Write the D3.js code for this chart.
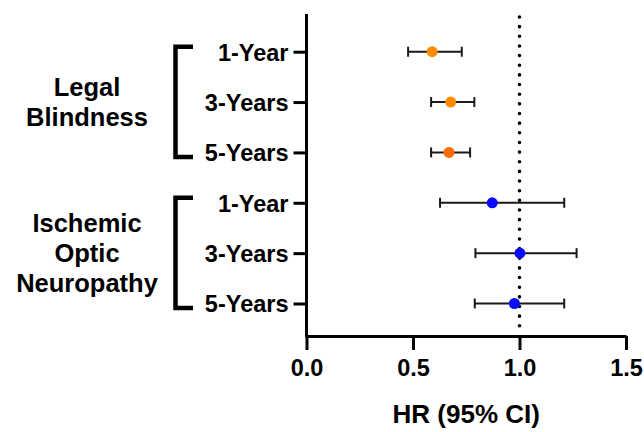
<!DOCTYPE html>
<html lang="en">
  <head>
    <meta charset="utf-8">
    <title>HR forest plot</title>
    <script src="https://cdnjs.cloudflare.com/ajax/libs/d3/7.8.0/d3.min.js"></script>
    <style>
      body { margin: 0; background: #fff; }
      svg { font-family: "Liberation Sans", Arial, sans-serif; font-weight: bold; }
      .axis path, .axis line { stroke: #000; stroke-width: 3px; }
      .axis text { font-size: 23.5px; font-weight: bold; fill: #000; }
    </style>
  </head>
  <body>
    <div id="chart"></div>
    <script type="text/javascript">
      // rows, top to bottom
      var rowIds = ["lb1", "lb3", "lb5", "ion1", "ion3", "ion5"];
      var rowLabels = ["1-Year", "3-Years", "5-Years", "1-Year", "3-Years", "5-Years"];
      var hr = [0.59, 0.677, 0.669, 0.872, 1.002, 0.976];
      var ciLow = [0.477, 0.585, 0.585, 0.627, 0.793, 0.79];
      var ciHigh = [0.729, 0.788, 0.768, 1.21, 1.268, 1.21];
      var pointColors = ["#ff8c00", "#ff8a00", "#ff6a00", "#0a0aff", "#0a0aff", "#0a0aff"];
      var groups = [
        { lines: ["Legal", "Blindness"], first: "lb1", last: "lb5" },
        { lines: ["Ischemic", "Optic", "Neuropathy"], first: "ion1", last: "ion5" }
      ];
      var xTicks = [0, 0.5, 1, 1.5];
      var refLine = 1.0;

      var width = 644, height = 432;
      var svg = d3.select("#chart").append("svg")
          .attr("width", width)
          .attr("height", height);

      var x = d3.scaleLinear().domain([0, 1.5]).range([306.5, 626]);
      var y = d3.scalePoint().domain(rowIds).range([51.7, 303.5]);
      var axisY = 336;

      // dotted reference line at HR = 1
      svg.append("line")
         .attr("x1", x(refLine)).attr("x2", x(refLine))
         .attr("y1", 17).attr("y2", axisY - 2)
         .attr("stroke", "#000")
         .attr("stroke-width", 3.6)
         .attr("stroke-linecap", "round")
         .attr("stroke-dasharray", "0,9.65");

      // y axis
      var yAxis = svg.append("g")
         .attr("class", "axis")
         .attr("transform", "translate(" + x(0) + ",0)")
         .call(d3.axisLeft(y).tickSize(13).tickPadding(5)
               .tickFormat(function(d, i) { return rowLabels[i]; }));
      yAxis.select(".domain").remove();
      yAxis.selectAll("text").attr("dy", "0.36em");
      yAxis.append("line")
           .attr("x1", 0).attr("x2", 0)
           .attr("y1", 14).attr("y2", axisY + 1.5);

      // x axis
      var xAxis = svg.append("g")
         .attr("class", "axis")
         .attr("transform", "translate(0," + axisY + ")")
         .call(d3.axisBottom(x).tickValues(xTicks).tickSize(14).tickSizeOuter(0)
               .tickPadding(9).tickFormat(d3.format(".1f")));

      svg.append("text")
         .attr("x", x(0.75))
         .attr("y", 423)
         .attr("text-anchor", "middle")
         .attr("font-size", 26)
         .text("HR (95% CI)");

      // error bars
      var rows = rowIds.map(function(id, i) {
        return { id: id, hr: hr[i], lo: ciLow[i], hi: ciHigh[i], color: pointColors[i] };
      });
      var bars = svg.append("g").attr("stroke", "#1a1a1a").attr("stroke-width", 2);
      bars.selectAll(".ci").data(rows).enter().append("line")
          .attr("x1", function(d) { return x(d.lo); })
          .attr("x2", function(d) { return x(d.hi); })
          .attr("y1", function(d) { return y(d.id); })
          .attr("y2", function(d) { return y(d.id); });
      ["lo", "hi"].forEach(function(k) {
        bars.selectAll(".cap-" + k).data(rows).enter().append("line")
            .attr("x1", function(d) { return x(d[k]); })
            .attr("x2", function(d) { return x(d[k]); })
            .attr("y1", function(d) { return y(d.id) - 5; })
            .attr("y2", function(d) { return y(d.id) + 5; });
      });
      svg.selectAll(".pt").data(rows).enter().append("circle")
         .attr("cx", function(d) { return x(d.hr); })
         .attr("cy", function(d) { return y(d.id); })
         .attr("r", 5.5)
         .attr("fill", function(d) { return d.color; });

      // group brackets and labels
      groups.forEach(function(g) {
        var top = y(g.first) - 5, bot = y(g.last) + 4.5;
        svg.append("path")
           .attr("d", "M193," + top + "H175.5V" + bot + "H193")
           .attr("fill", "none")
           .attr("stroke", "#000")
           .attr("stroke-width", 4.5);
        var mid = (y(g.first) + y(g.last)) / 2;
        var n = g.lines.length;
        var t = svg.append("text")
           .attr("text-anchor", "middle")
           .attr("font-size", 25.5);
        g.lines.forEach(function(line, i) {
          t.append("tspan")
           .attr("x", 87)
           .attr("y", mid + 9 + (i - (n - 1) / 2) * 30)
           .text(line);
        });
      });
    </script>
  </body>
</html>
